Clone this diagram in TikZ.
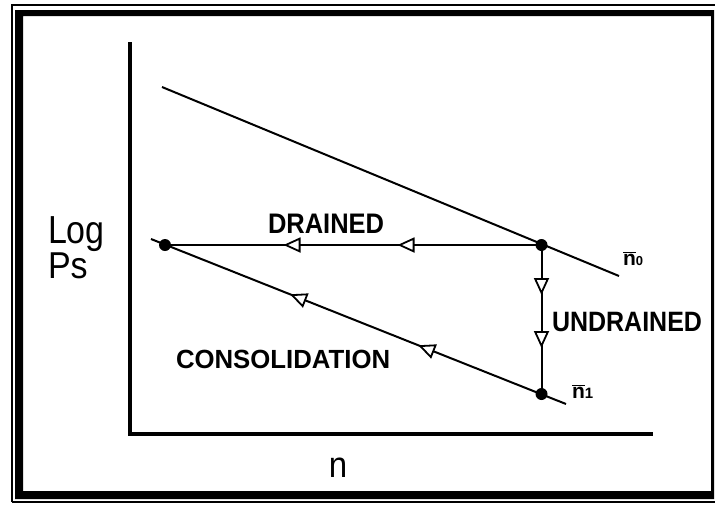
\documentclass[tikz,border=0pt]{standalone}
\usepackage{fontspec}
\setmainfont{Liberation Sans}
\usetikzlibrary{arrows.meta,decorations.markings}
\tikzset{
  lbl/.style={inner sep=0pt,outer sep=0pt,anchor=base west,font=\bfseries\fontsize{25}{25}\selectfont},
  biglbl/.style={inner sep=0pt,outer sep=0pt,anchor=base west,font=\fontsize{34}{34}\selectfont},
  dot/.style={circle,fill=black,inner sep=0pt,minimum size=12pt},
  thinline/.style={line width=2pt},
  axis/.style={line width=4pt},
  opentri/.tip={Triangle[fill=white,length=17pt,width=15pt,line width=1.8pt]},
  arrowsat/.style args={#1 and #2}{postaction={decorate},decoration={markings,
     mark=at position #1 with {\arrow{opentri}},
     mark=at position #2 with {\arrow{opentri}}}}
}
\begin{document}
\begin{tikzpicture}[x=1pt,y=-1pt]
\useasboundingbox (0,0) rectangle (715,504);
% frame
\fill[black,even odd rule] (15,10) rectangle (714,499) (23,16) rectangle (711,491);
\draw[line width=1.5pt] (12,502) -- (12,5) -- (715,5);
\draw[line width=1.5pt] (12,502) -- (715,502);
% axes
\coordinate (ytop) at (130,42);
\coordinate (origin) at (130,434);
\coordinate (xend) at (653,434);
\draw[axis] (ytop) -- (origin) -- (xend);
% lines
\coordinate (U1) at (162,87);
\coordinate (U2) at (619,276);
\coordinate (L1) at (151,239);
\coordinate (L2) at (566,404);
\draw[thinline] (U1) -- (U2);
\draw[thinline,arrowsat={159pt and 297pt}] (L2) -- (L1);
% points
\node[dot] (A) at (165,245) {};
\node[dot] (B) at (541.5,245) {};
\node[dot] (C) at (541.5,394) {};
\draw[thinline,arrowsat={258pt and 144pt}] (B.center) -- (A.center);
\draw[thinline,arrowsat={50pt and 103pt}] (B.center) -- (C.center);
% labels
\node[lbl] (drained) at (268,233) {\scalebox{1.02}[1.13]{DRAINED}};
\node[lbl] (undrained) at (552,331) {\scalebox{1}[1.12]{UNDRAINED}};
\node[lbl,font=\bfseries\fontsize{25.5}{26}\selectfont] (consol) at (176,368) {\scalebox{1.01}[1.03]{CONSOLIDATION}};
\node[biglbl] (log) at (48,243) {\scalebox{1}[1.15]{Log}};
\node[biglbl] (ps) at (48,278) {\scalebox{1}[1.1]{Ps}};
\node[inner sep=0pt,anchor=base,font=\fontsize{33}{33}\selectfont] (nlabel) at (338,477) {\scalebox{1}[1.1]{n}};
\node[lbl,font=\bfseries\fontsize{21}{21}\selectfont] (n0) at (623,265) {$\overline{\mbox{n}}$\fontsize{13}{13}\selectfont 0};
\node[lbl,font=\bfseries\fontsize{21}{21}\selectfont] (n1) at (572,398) {$\overline{\mbox{n}}$\fontsize{15}{15}\selectfont 1};
\end{tikzpicture}
\end{document}
